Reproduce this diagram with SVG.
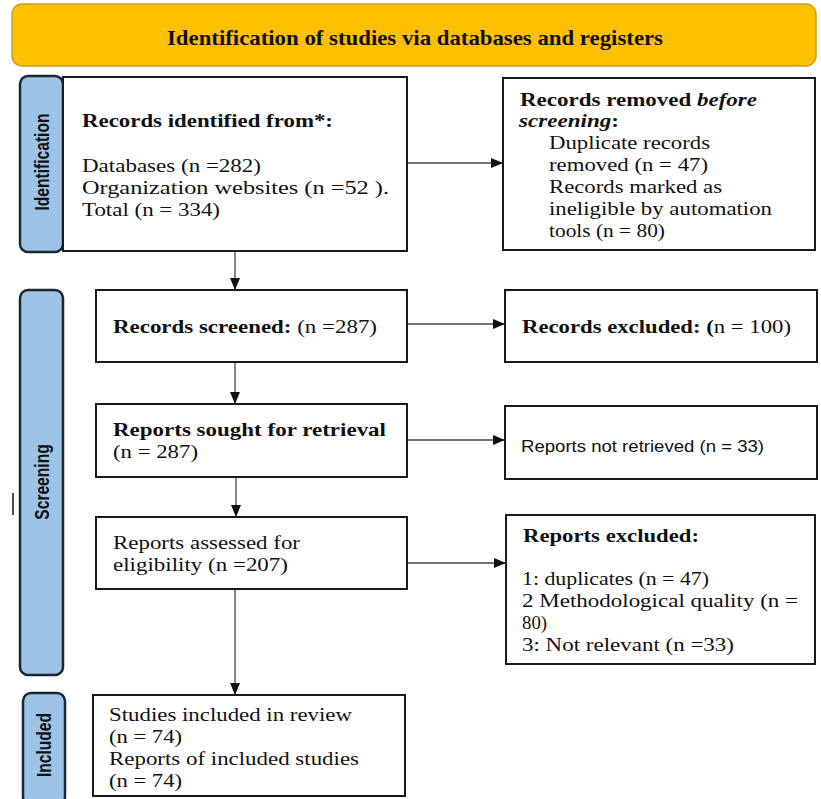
<svg xmlns="http://www.w3.org/2000/svg" width="821" height="799" viewBox="0 0 821 799">
<style>
.box{fill:#fff;stroke:#1a1a1a;stroke-width:2}
.side{fill:#9dc3e6;stroke:#1b2631;stroke-width:2.5}
.t{font-family:"Liberation Serif","Times New Roman",serif;font-size:19px;fill:#111}
.b{font-weight:bold}
.s{font-family:"Liberation Sans",Arial,sans-serif;font-size:16px;fill:#111}
.lbl{font-family:"Liberation Sans",Arial,sans-serif;font-size:15.6px;font-weight:bold;fill:#111;text-anchor:middle;dominant-baseline:central}
.c{stroke:#444;stroke-width:1.3;fill:none;marker-end:url(#ah)}
</style>
<defs>
<marker id="ah" markerUnits="userSpaceOnUse" markerWidth="12" markerHeight="10" refX="11" refY="5" orient="auto">
<path d="M0,0 L12,5 L0,10 Z" fill="#111"/>
</marker>
</defs>
<rect width="821" height="799" fill="#fff"/>

<g id="banner">
<rect x="12" y="4" width="804" height="62" rx="10" fill="#ffc000" stroke="#c9a020" stroke-width="1.5"/>
<text x="415" y="45" text-anchor="middle" class="t b" style="font-size:22px" textLength="496" lengthAdjust="spacingAndGlyphs">Identification of studies via databases and registers</text>
</g>

<g id="label-identification">
<rect class="side" x="20" y="76" width="43" height="176" rx="8"/>
<text class="lbl" transform="translate(42,162) scale(1.25,1) rotate(-90)">Identification</text>
</g>
<g id="label-screening">
<rect class="side" x="20" y="290" width="43" height="385" rx="8"/>
<text class="lbl" transform="translate(42,482) scale(1.25,1) rotate(-90)">Screening</text>
</g>
<g id="label-included">
<rect class="side" x="23" y="693" width="42" height="112" rx="8"/>
<text class="lbl" transform="translate(44,745) scale(1.25,1) rotate(-90)">Included</text>
</g>

<g id="tick"><line x1="13" y1="493" x2="13" y2="515" stroke="#111" stroke-width="1.5"/></g>

<g id="records-identified">
<rect class="box" x="63" y="77" width="344" height="174"/>
<text class="t b" x="82" y="127" textLength="251" lengthAdjust="spacingAndGlyphs">Records identified from*:</text>
<text class="t" x="82" y="172" textLength="179" lengthAdjust="spacingAndGlyphs">Databases (n =282)</text>
<text class="t" x="82" y="194" textLength="307" lengthAdjust="spacingAndGlyphs">Organization  websites  (n  =52  ).</text>
<text class="t" x="82" y="216" textLength="138" lengthAdjust="spacingAndGlyphs">Total (n = 334)</text>
</g>

<g id="records-removed">
<rect class="box" x="503" y="78" width="312" height="172"/>
<text class="t b" x="520" y="106" textLength="237" lengthAdjust="spacingAndGlyphs">Records removed <tspan font-style="italic">before</tspan></text>
<text class="t b" x="519" y="127" textLength="100" lengthAdjust="spacingAndGlyphs"><tspan font-style="italic">screening</tspan>:</text>
<text class="t" x="549" y="149" textLength="161" lengthAdjust="spacingAndGlyphs">Duplicate records</text>
<text class="t" x="549" y="171" textLength="159" lengthAdjust="spacingAndGlyphs">removed (n = 47)</text>
<text class="t" x="549" y="193" textLength="173" lengthAdjust="spacingAndGlyphs">Records marked as</text>
<text class="t" x="549" y="215" textLength="223" lengthAdjust="spacingAndGlyphs">ineligible by automation</text>
<text class="t" x="549" y="237" textLength="116" lengthAdjust="spacingAndGlyphs">tools (n = 80)</text>
</g>

<g id="records-screened">
<rect class="box" x="96" y="290" width="311" height="72"/>
<text class="t" x="113" y="333" textLength="264" lengthAdjust="spacingAndGlyphs"><tspan font-weight="bold">Records screened:</tspan> (n =287)</text>
</g>

<g id="records-excluded">
<rect class="box" x="505" y="290" width="312" height="72"/>
<text class="t" x="522" y="333" textLength="269" lengthAdjust="spacingAndGlyphs"><tspan font-weight="bold">Records excluded: (</tspan>n = 100)</text>
</g>

<g id="reports-sought">
<rect class="box" x="96" y="404" width="311" height="73"/>
<text class="t b" x="113" y="436" textLength="273" lengthAdjust="spacingAndGlyphs">Reports sought for retrieval</text>
<text class="t" x="113" y="458" textLength="85" lengthAdjust="spacingAndGlyphs">(n = 287)</text>
</g>

<g id="reports-not-retrieved">
<rect class="box" x="505" y="406" width="312" height="73"/>
<text class="s" x="521" y="452" textLength="243" lengthAdjust="spacingAndGlyphs">Reports not retrieved (n = 33)</text>
</g>

<g id="reports-assessed">
<rect class="box" x="96" y="517" width="311" height="72"/>
<text class="t" x="113" y="549" textLength="187" lengthAdjust="spacingAndGlyphs">Reports assessed for</text>
<text class="t" x="113" y="571" textLength="175" lengthAdjust="spacingAndGlyphs">eligibility (n =207)</text>
</g>

<g id="reports-excluded">
<rect class="box" x="506" y="515" width="309" height="149"/>
<text class="t b" x="523" y="542" textLength="176" lengthAdjust="spacingAndGlyphs">Reports excluded:</text>
<text class="t" x="522" y="585" textLength="187" lengthAdjust="spacingAndGlyphs">1: duplicates (n = 47)</text>
<text class="t" x="522" y="607" textLength="276" lengthAdjust="spacingAndGlyphs">2 Methodological quality (n =</text>
<text class="t" x="522" y="629" textLength="25" lengthAdjust="spacingAndGlyphs">80)</text>
<text class="t" x="522" y="651" textLength="212" lengthAdjust="spacingAndGlyphs">3: Not relevant (n =33)</text>
</g>

<g id="studies-included">
<rect class="box" x="93" y="695" width="312" height="101"/>
<text class="t" x="109" y="721" textLength="243" lengthAdjust="spacingAndGlyphs">Studies included in review</text>
<text class="t" x="109" y="743" textLength="73" lengthAdjust="spacingAndGlyphs">(n = 74)</text>
<text class="t" x="109" y="765" textLength="250" lengthAdjust="spacingAndGlyphs">Reports of included studies</text>
<text class="t" x="109" y="787" textLength="73" lengthAdjust="spacingAndGlyphs">(n = 74)</text>
</g>

<g id="connectors">
<line class="c" x1="408" y1="163" x2="502" y2="163"/>
<line class="c" x1="235" y1="252" x2="235" y2="289"/>
<line class="c" x1="408" y1="324" x2="504" y2="324"/>
<line class="c" x1="235" y1="363" x2="235" y2="403"/>
<line class="c" x1="408" y1="440" x2="504" y2="440"/>
<line class="c" x1="236" y1="478" x2="236" y2="516"/>
<line class="c" x1="408" y1="563" x2="505" y2="563"/>
<line class="c" x1="235" y1="590" x2="235" y2="694"/>
</g>
</svg>
